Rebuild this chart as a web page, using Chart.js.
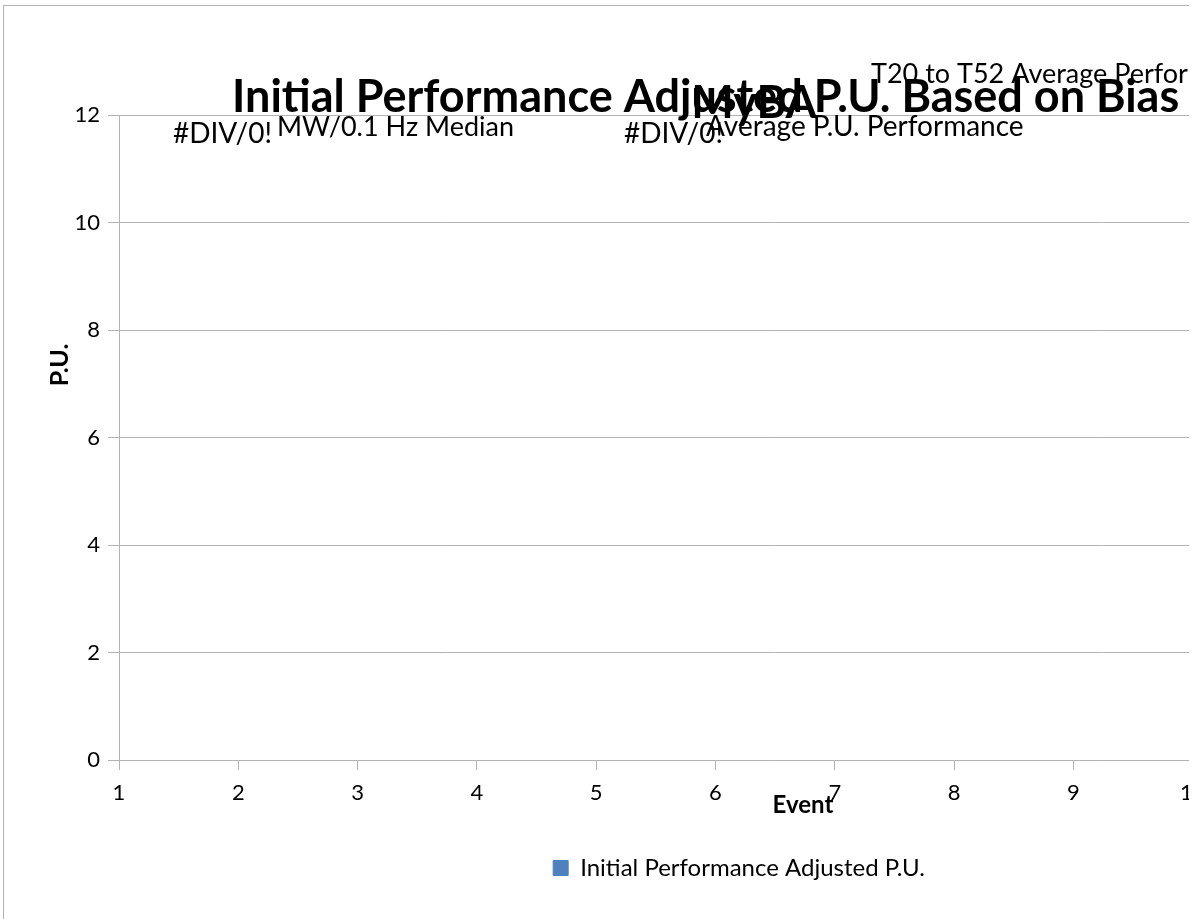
<!DOCTYPE html>
<html>
<head>
<meta charset="utf-8">
<title>Initial Performance Adjusted P.U.</title>
<script src="https://cdn.jsdelivr.net/npm/chart.js@4.4.1/dist/chart.umd.min.js"></script>
<style>
    html, body { margin: 0; padding: 0; background: #fff; overflow: hidden; }
    #clip { position: absolute; left: 0; top: 0; width: 1189px; height: 919px; overflow: hidden; }
    #frame { position: absolute; left: 3px; top: 5px; border: 1px solid #b3b3b3; width: 1450px; height: 920px; }
    #puChart { display: block; }
</style>
</head>
<body>
<div id="clip">
    <div id="frame">
        <canvas id="puChart" width="1450" height="920"></canvas>
    </div>
</div>
<script>
// Data read from the sheet (every value shows #DIV/0!, so the series is empty)
const eventNumbers = [1, 2, 3, 4, 5, 6, 7, 8, 9, 10];
const initialPerformancePU = [null, null, null, null, null, null, null, null, null, null];
const seriesName = 'Initial Performance Adjusted P.U.';

const chartTitleLines = ['Initial Performance Adjusted P.U. Based on Bias', 'MyBA'];
const xAxisTitle = 'Event';
const yAxisTitle = 'P.U.';
const yAxisRange = [0, 12];
const xAxisRange = [1, 12];

// Text boxes that sit on top of the chart
const calloutTexts = ['#DIV/0!', 'MW/0.1 Hz Median', '#DIV/0!', 'Average P.U. Performance', 'T20 to T52 Average Performance'];

document.addEventListener('DOMContentLoaded', function () {
    const canvas = document.getElementById('puChart');
    if (!canvas) {
        console.error('canvas not found');
        return;
    }
    const ctx = canvas.getContext('2d');

    const FONT = 'Lato, "Liberation Sans", sans-serif';
    const GRID = '#b3b3b3';

    // where each callout is placed (canvas px: left, baseline, font size)
    const calloutPos = [
        [169, 137, 28], [273, 130, 27], [620, 137, 28], [702, 130, 28], [867, 77, 27]
    ];

    // Title, axis titles and callouts are drawn by hand, the way Excel overlaps them
    const overlayText = {
        id: 'overlayText',
        afterDraw(chart) {
            const c = chart.ctx;
            c.save();
            c.fillStyle = '#000';
            c.textBaseline = 'alphabetic';

            // callouts
            c.textAlign = 'left';
            calloutTexts.forEach((t, i) => {
                c.font = calloutPos[i][2] + 'px ' + FONT;
                c.fillText(t, calloutPos[i][0], calloutPos[i][1]);
            });

            // chart title, second line almost on top of the first
            c.font = 'bold 45px ' + FONT;
            c.textAlign = 'left';
            c.fillText(chartTitleLines[0], 228, 106);
            c.textAlign = 'center';
            c.fillText(chartTitleLines[1], 750, 112);

            // axis titles
            c.font = 'bold 24px ' + FONT;
            c.textBaseline = 'middle';
            c.fillText(xAxisTitle, 799, 799);
            c.font = 'bold 25px ' + FONT;
            c.translate(56, 359);
            c.rotate(-Math.PI / 2);
            c.fillText(yAxisTitle, 0, 0);
            c.restore();
        }
    };

    const puChart = new Chart(ctx, {
        type: 'scatter',
        data: {
            datasets: [{
                label: seriesName,
                data: eventNumbers.map((e, i) => ({ x: e, y: initialPerformancePU[i] })),
                backgroundColor: '#4f81bd',
                borderColor: '#4f81bd',
                borderWidth: 1,
                showLine: false
            }]
        },
        options: {
            responsive: false,
            animation: false,
            layout: {
                padding: { top: 109, left: 35, right: 15, bottom: 36 }
            },
            plugins: {
                title: { display: false },
                tooltip: { enabled: false },
                legend: {
                    position: 'bottom',
                    labels: {
                        font: { family: FONT, size: 24 },
                        color: '#000',
                        boxWidth: 15,
                        boxHeight: 15,
                        padding: 10
                    }
                }
            },
            scales: {
                x: {
                    type: 'linear',
                    min: xAxisRange[0],
                    max: xAxisRange[1],
                    afterFit: function (scale) { scale.height = 86; },
                    border: { color: GRID, width: 1 },
                    grid: {
                        drawOnChartArea: false,
                        drawTicks: true,
                        tickLength: 10,
                        color: GRID
                    },
                    ticks: {
                        stepSize: 1,
                        padding: 10,
                        color: '#000',
                        font: { family: FONT, size: 22 }
                    }
                },
                y: {
                    min: yAxisRange[0],
                    max: yAxisRange[1],
                    afterFit: function (scale) { scale.width = 80; },
                    border: { color: GRID, width: 1 },
                    grid: {
                        color: GRID,
                        drawTicks: true,
                        tickLength: 11
                    },
                    ticks: {
                        stepSize: 2,
                        padding: 8,
                        color: '#000',
                        font: { family: FONT, size: 22 }
                    }
                }
            }
        },
        plugins: [overlayText]
    });
});
</script>
</body>
</html>
